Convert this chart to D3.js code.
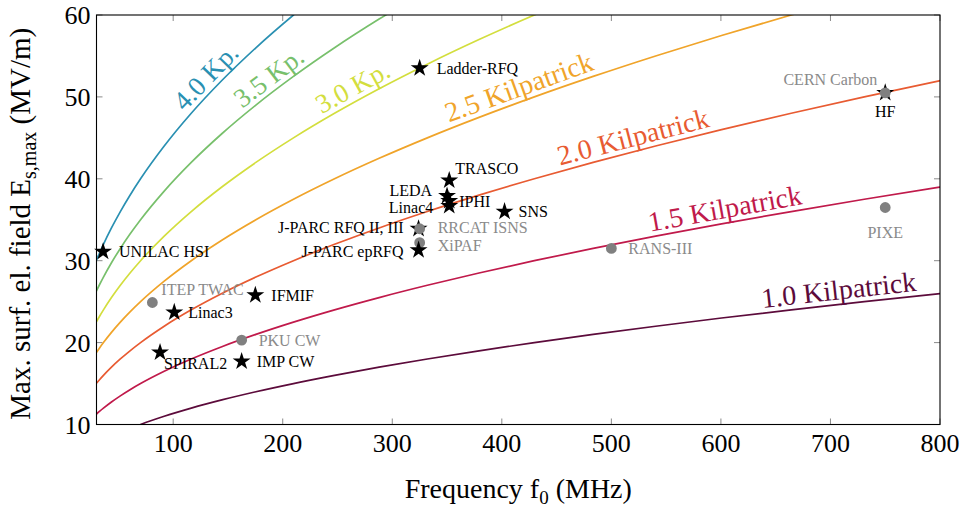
<!DOCTYPE html>
<html>
<head>
<meta charset="utf-8">
<script src="https://cdn.jsdelivr.net/npm/d3@7"></script>
<style>
  body { margin: 0; background: #fff; }
  svg { display: block; }
  text { font-family: "Liberation Serif", "Times New Roman", serif; }
</style>
</head>
<body>
<svg id="chart" width="963" height="507"></svg>
<script>
// Kilpatrick limit (1.0 Kp.): frequency (MHz) vs. field (MV/m), tabulated
const kpFreq  = [28.53, 29.76, 32.95, 36.34, 43.67, 51.76, 60.60, 70.22, 91.81, 116.5, 144.4, 175.5,
                 209.8, 247.3, 288.0, 332.0, 379.2, 429.7, 483.4, 540.4, 600.6, 664.2, 730.9, 800.9];
const kpField = [7.4, 7.5, 7.75, 8, 8.5, 9, 9.5, 10, 11, 12, 13, 14,
                 15, 16, 17, 18, 19, 20, 21, 22, 23, 24, 25, 26];

// Multiples of the Kilpatrick field drawn as separate curves
const kpMultiples = [1.0, 1.5, 2.0, 2.5, 3.0, 3.5, 4.0];
const kpNames     = ["1.0 Kilpatrick", "1.5 Kilpatrick", "2.0 Kilpatrick", "2.5 Kilpatrick",
                     "3.0 Kp.", "3.5 Kp.", "4.0 Kp."];
const kpColors    = ["#5c0b3b", "#c01a4b", "#e85b32", "#f0a42a", "#d3de3e", "#78c06c", "#2a90b2"];

// RFQ machines
const machNames = ["UNILAC HSI", "Ladder-RFQ", "TRASCO", "LEDA", "IPHI", "Linac4", "SNS",
                   "J-PARC RFQ II, III", "RRCAT ISNS", "XiPAF", "J-PARC epRFQ",
                   "ITEP TWAC", "Linac3", "IFMIF", "PKU CW", "IMP CW", "SPIRAL2",
                   "RANS-III", "PIXE", "HF", "CERN Carbon"];
const machFreq  = [36, 325, 352, 350, 352, 352, 402.5,
                   324, 325, 325, 324,
                   81, 101, 175, 162.5, 162.5, 88,
                   500, 750, 750, 750];
const machField = [31.1, 53.5, 39.8, 37.9, 37.3, 36.7, 36.0,
                   33.9, 33.9, 32.2, 31.3,
                   24.9, 23.7, 25.8, 20.3, 17.7, 18.8,
                   31.5, 36.5, 50.5, 50.5];
const machKind  = ["star", "star", "star", "star", "star", "star", "star",
                   "star", "circle", "circle", "star",
                   "circle", "star", "star", "circle", "star", "star",
                   "circle", "circle", "star", "circle"];

const xTicks = [100, 200, 300, 400, 500, 600, 700, 800];
const yTicks = [10, 20, 30, 40, 50, 60];

// ---- layout ----
const plot = { left: 96.5, top: 15, right: 940, bottom: 424.5 };
const svg = d3.select("#chart");

const x = d3.scaleLinear().domain([30, 800]).range([plot.left, plot.right]);
const y = d3.scaleLinear().domain([10, 60]).range([plot.bottom, plot.top]);

// label placement for each machine: [dx, dy, anchor]
const machLabelPos = {
  "UNILAC HSI": [16, 0, "start"], "Ladder-RFQ": [17, 0, "start"], "TRASCO": [6, -12, "start"],
  "LEDA": [-15, -6, "end"], "IPHI": [10, 0, "start"], "Linac4": [-16, 2, "end"],
  "SNS": [14, 0, "start"], "J-PARC RFQ II, III": [-15, -1, "end"], "RRCAT ISNS": [18, -1.5, "start"],
  "XiPAF": [18, 3, "start"], "J-PARC epRFQ": [-15, 1, "end"], "ITEP TWAC": [9, -13, "start"],
  "Linac3": [14, 0, "start"], "IFMIF": [16, 0, "start"], "PKU CW": [17, 0, "start"],
  "IMP CW": [15, 0, "start"], "SPIRAL2": [4, 11, "start"], "RANS-III": [17, 0, "start"],
  "PIXE": [0, 25, "middle"], "HF": [0, 19, "middle"], "CERN Carbon": [-8, -13, "end"]
};
// where along each curve (MHz) its label sits
const kpLabelFreq = [709, 606, 523, 420, 270, 195, 139];

svg.append("defs").append("clipPath").attr("id", "plotClip")
  .append("rect")
  .attr("x", plot.left).attr("y", plot.top)
  .attr("width", plot.right - plot.left).attr("height", plot.bottom - plot.top);

// ---- axes frame & ticks (inward, all four sides) ----
const tickLen = 6;
const tickG = svg.append("g").attr("stroke", "#8a8a8a").attr("stroke-width", 1);
xTicks.forEach(t => {
  const xx = x(t);
  tickG.append("line").attr("x1", xx).attr("x2", xx).attr("y1", plot.bottom).attr("y2", plot.bottom - tickLen);
  tickG.append("line").attr("x1", xx).attr("x2", xx).attr("y1", plot.top).attr("y2", plot.top + tickLen);
});
yTicks.forEach(t => {
  const yy = y(t);
  tickG.append("line").attr("x1", plot.left).attr("x2", plot.left + tickLen).attr("y1", yy).attr("y2", yy);
  tickG.append("line").attr("x1", plot.right).attr("x2", plot.right - tickLen).attr("y1", yy).attr("y2", yy);
});

// tick labels
svg.append("g").selectAll("text").data(xTicks).join("text")
  .attr("x", d => x(d)).attr("y", 452)
  .attr("text-anchor", "middle").attr("font-size", 26).attr("fill", "#000")
  .text(d => d);
svg.append("g").selectAll("text").data(yTicks).join("text")
  .attr("x", plot.left - 6).attr("y", d => y(d)).attr("dy", "0.35em")
  .attr("text-anchor", "end").attr("font-size", 26).attr("fill", "#000")
  .text(d => d);

// ---- Kilpatrick curves ----
const line = d3.line().curve(d3.curveMonotoneX);
const curveG = svg.append("g");
const paths = kpMultiples.map((m, i) => {
  const pts = kpFreq.map((f, j) => [x(f), y(m * kpField[j])]);
  return curveG.append("path")
    .attr("d", line(pts))
    .attr("fill", "none")
    .attr("stroke", kpColors[i])
    .attr("stroke-width", 1.7)
    .attr("clip-path", "url(#plotClip)");
});

// labels along each curve
paths.forEach((p, i) => {
  const node = p.node();
  const L = node.getTotalLength();
  const xt = x(kpLabelFreq[i]);
  let lo = 0, hi = L;
  for (let k = 0; k < 40; k++) {
    const mid = (lo + hi) / 2;
    if (node.getPointAtLength(mid).x < xt) lo = mid; else hi = mid;
  }
  const pt = node.getPointAtLength(lo);
  const a = node.getPointAtLength(Math.max(0, lo - 4));
  const b = node.getPointAtLength(Math.min(L, lo + 4));
  const ang = Math.atan2(b.y - a.y, b.x - a.x) * 180 / Math.PI;
  const isShort = kpNames[i].indexOf("Kp.") >= 0;
  curveG.append("text")
    .attr("transform", `translate(${pt.x},${pt.y}) rotate(${ang})`)
    .attr("y", -5)
    .attr("text-anchor", "middle")
    .attr("font-size", isShort ? 27 : 28)
    .attr("fill", kpColors[i])
    .text(kpNames[i]);
});

// ---- machines ----
const starSym = d3.symbol().type(d3.symbolStar).size(100);
const circSym = d3.symbol().type(d3.symbolCircle).size(92);
const markG = svg.append("g");
machNames.forEach((name, i) => {
  const px = x(machFreq[i]), py = y(machField[i]);
  if (machKind[i] === "star") {
    markG.append("path").attr("d", starSym())
      .attr("transform", `translate(${px},${py})`).attr("fill", "#000");
  } else {
    markG.append("path").attr("d", circSym())
      .attr("transform", `translate(${px},${py})`).attr("fill", "#808080");
  }
});
const labG = svg.append("g");
machNames.forEach((name, i) => {
  const px = x(machFreq[i]), py = y(machField[i]);
  const [dx, dy, anchor] = machLabelPos[name];
  labG.append("text")
    .attr("x", px + dx).attr("y", py + dy).attr("dy", "0.35em")
    .attr("text-anchor", anchor)
    .attr("font-size", 16)
    .attr("fill", machKind[i] === "star" ? "#000" : "#8a8a8a")
    .text(name);
});

// frame
svg.append("rect")
  .attr("x", plot.left).attr("y", plot.top)
  .attr("width", plot.right - plot.left).attr("height", plot.bottom - plot.top)
  .attr("fill", "none").attr("stroke", "#000").attr("stroke-width", 1.1);

// ---- axis titles ----
const xt = svg.append("text")
  .attr("x", (plot.left + plot.right) / 2).attr("y", 498)
  .attr("text-anchor", "middle").attr("font-size", 28).attr("fill", "#000");
xt.append("tspan").text("Frequency f");
xt.append("tspan").attr("font-size", 19).attr("dy", 6).text("0");
xt.append("tspan").attr("dy", -6).text(" (MHz)");

const yt = svg.append("text")
  .attr("transform", `translate(30,${(plot.top + plot.bottom) / 2 + 4}) rotate(-90)`)
  .attr("text-anchor", "middle").attr("font-size", 29).attr("fill", "#000");
yt.append("tspan").text("Max. surf. el. field E");
yt.append("tspan").attr("font-size", 20).attr("dy", 6).text("s,max");
yt.append("tspan").attr("dy", -6).text(" (MV/m)");
</script>
</body>
</html>
